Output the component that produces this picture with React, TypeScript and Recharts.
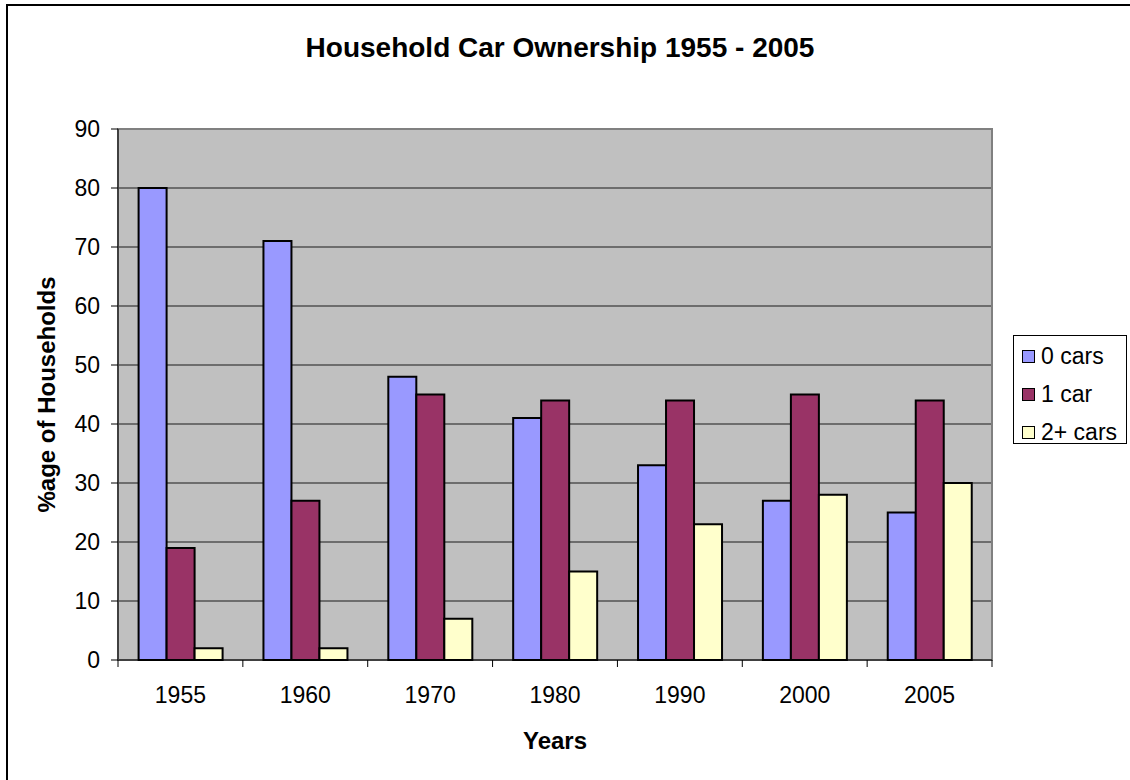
import React from "react";
import {
  BarChart,
  Bar,
  XAxis,
  YAxis,
  CartesianGrid,
  Legend,
  ReferenceArea,
  Label,
} from "recharts";

const years = ["1955", "1960", "1970", "1980", "1990", "2000", "2005"];
const zeroCars = [80, 71, 48, 41, 33, 27, 25];
const oneCar = [19, 27, 45, 44, 44, 45, 44];
const twoPlusCars = [2, 2, 7, 15, 23, 28, 30];
const yTicks = [0, 10, 20, 30, 40, 50, 60, 70, 80, 90];

const seriesNames = ["0 cars", "1 car", "2+ cars"];
const seriesColors = ["#9999FF", "#993366", "#FFFFCC"];

const data = years.map((year, i) => ({
  year,
  zero: zeroCars[i],
  one: oneCar[i],
  two: twoPlusCars[i],
}));

const FONT = '"Liberation Sans", Arial, sans-serif';

// x ticks sit on the category boundaries, Excel style
function YearTick(props: any) {
  const { x, y, payload, index, visibleTicksCount, width } = props;
  const half = payload.offset || width / visibleTicksCount / 2;
  return (
    <g>
      <line x1={x - half} x2={x - half} y1={y} y2={y + 7} stroke="#000" />
      {index === visibleTicksCount - 1 && (
        <line x1={x + half} x2={x + half} y1={y} y2={y + 7} stroke="#000" />
      )}
      <text
        x={x}
        y={y + 27}
        dy="0.71em"
        textAnchor="middle"
        fontSize={23}
        fill="#000"
      >
        {payload.value}
      </text>
    </g>
  );
}

function LegendBox({ payload }: any) {
  return (
    <div
      style={{
        border: "1px solid #000",
        background: "#fff",
        width: "100%",
        height: "100%",
        boxSizing: "border-box",
        paddingTop: 1,
      }}
    >
      {(payload || []).map((p: any) => (
        <div
          key={p.value}
          style={{
            display: "flex",
            alignItems: "center",
            height: 38,
            fontSize: 23,
            color: "#000",
          }}
        >
          <span
            style={{
              display: "inline-block",
              width: 11,
              height: 11,
              marginLeft: 8,
              marginRight: 6,
              background: p.color,
              border: "1px solid #000",
            }}
          />
          <span>{p.value}</span>
        </div>
      ))}
    </div>
  );
}

export default function App() {
  return (
    <div
      style={{
        position: "absolute",
        left: 0,
        top: 0,
        width: 1130,
        height: 780,
        overflow: "hidden",
        background: "#fff",
        fontFamily: FONT,
      }}
    >
      <div
        style={{
          position: "absolute",
          left: 6,
          top: 4,
          width: 1140,
          height: 800,
          border: "2px solid #000",
        }}
      />
      <div
        style={{
          position: "absolute",
          left: 0,
          top: 34,
          width: 1120,
          textAlign: "center",
          fontSize: 28,
          lineHeight: "28px",
          fontWeight: "bold",
          color: "#000",
        }}
      >
        Household Car Ownership 1955 - 2005
      </div>
      <BarChart
        width={1130}
        height={780}
        data={data}
        margin={{ top: 129, right: 138, bottom: 0, left: 0 }}
        barCategoryGap="16.5%"
        barGap={0}
      >
        <CartesianGrid
          vertical={false}
          fill="#C0C0C0"
          fillOpacity={1}
          stroke="#1a1a1a"
        />
        <ReferenceArea
          y1={0}
          y2={90}
          fill="none"
          stroke="#808080"
          strokeWidth={2}
        />
        <XAxis
          dataKey="year"
          height={120}
          tickLine={false}
          tickSize={0}
          tickMargin={0}
          axisLine={{ stroke: "#000" }}
          tick={<YearTick />}
          interval={0}
        >
          <Label
            value="Years"
            position="insideBottom"
            offset={31}
            style={{ fontSize: 24, fontWeight: "bold", fill: "#000" }}
          />
        </XAxis>
        <YAxis
          width={118}
          domain={[0, 90]}
          ticks={yTicks}
          interval={0}
          tickSize={7}
          tickMargin={11}
          tickLine={{ stroke: "#000" }}
          axisLine={{ stroke: "#404040", strokeWidth: 2 }}
          tick={{ fontSize: 23, fill: "#000" }}
        >
          <Label
            content={(p: any) => {
              const vb = p.viewBox;
              const cx = vb.x + 46;
              const cy = vb.y + vb.height / 2;
              return (
                <text
                  x={cx}
                  y={cy}
                  transform={`rotate(-90 ${cx} ${cy})`}
                  textAnchor="middle"
                  dominantBaseline="central"
                  fontSize={24}
                  fontWeight="bold"
                  fill="#000"
                >
                  %age of Households
                </text>
              );
            }}
          />
        </YAxis>
        <Legend
          layout="horizontal"
          verticalAlign="middle"
          align="center"
          wrapperStyle={{ left: 1013, top: 335, width: 114, height: 109 }}
          content={<LegendBox />}
        />
        <Bar
          dataKey="zero"
          name={seriesNames[0]}
          fill={seriesColors[0]}
          stroke="#000"
          strokeWidth={2}
          isAnimationActive={false}
        />
        <Bar
          dataKey="one"
          name={seriesNames[1]}
          fill={seriesColors[1]}
          stroke="#000"
          strokeWidth={2}
          isAnimationActive={false}
        />
        <Bar
          dataKey="two"
          name={seriesNames[2]}
          fill={seriesColors[2]}
          stroke="#000"
          strokeWidth={2}
          isAnimationActive={false}
        />
      </BarChart>
    </div>
  );
}
